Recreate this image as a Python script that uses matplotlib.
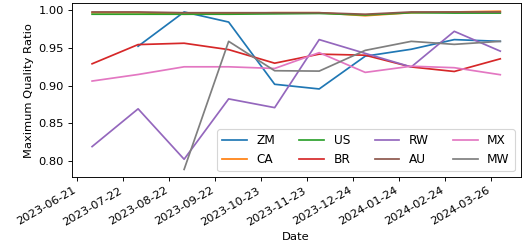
import numpy as np
import pandas as pd
import matplotlib
matplotlib.use("Agg")
import matplotlib.pyplot as plt

dates = pd.date_range("2023-07-01", periods=10, freq="MS")
nan = np.nan
series = {
    "ZM": [nan, 0.9525, 0.998, 0.9846, 0.902, 0.8958, 0.9393, 0.9485, 0.9613, 0.959],
    "CA": [0.997, 0.997, 0.995, 0.996, 0.997, 0.997, 0.993, 0.997, 0.998, 0.999],
    "US": [0.995, 0.995, 0.995, 0.995, 0.9955, 0.996, 0.994, 0.997, 0.9965, 0.9965],
    "BR": [0.9292, 0.9547, 0.9565, 0.948, 0.930, 0.942, 0.9406, 0.925, 0.919, 0.9358],
    "RW": [0.8193, 0.8694, 0.8025, 0.8826, 0.871, 0.9613, 0.943, 0.925, 0.9723, 0.946],
    "AU": [0.998, 0.998, 0.997, 0.997, 0.997, 0.997, 0.995, 0.998, 0.998, 0.998],
    "MX": [0.9063, 0.915, 0.9252, 0.9252, 0.923, 0.944, 0.9178, 0.926, 0.924, 0.9147],
    "MW": [nan, nan, 0.789, 0.959, 0.920, 0.9195, 0.947, 0.959, 0.955, 0.959],
}
tick_dates = pd.date_range("2023-06-21", periods=10, freq="31D")

dpi = 529 / 6.4
fig, ax = plt.subplots(figsize=(529 / dpi, 248 / dpi), dpi=dpi)
for name, vals in series.items():
    ax.plot(dates, vals, label=name)

ax.set_xticks(tick_dates)
ax.set_xticklabels([d.strftime("%Y-%m-%d") for d in tick_dates], rotation=30, ha="right")
ax.set_yticks([0.80, 0.85, 0.90, 0.95, 1.00])
ax.set_xlabel("Date")
ax.set_ylabel("Maximum Quality Ratio")
ax.legend(ncol=4, loc="lower right", fontsize=10.6)
fig.subplots_adjust(left=0.1355, right=0.9843, top=0.9867, bottom=0.285)
fig.savefig("out.png", dpi=dpi)
